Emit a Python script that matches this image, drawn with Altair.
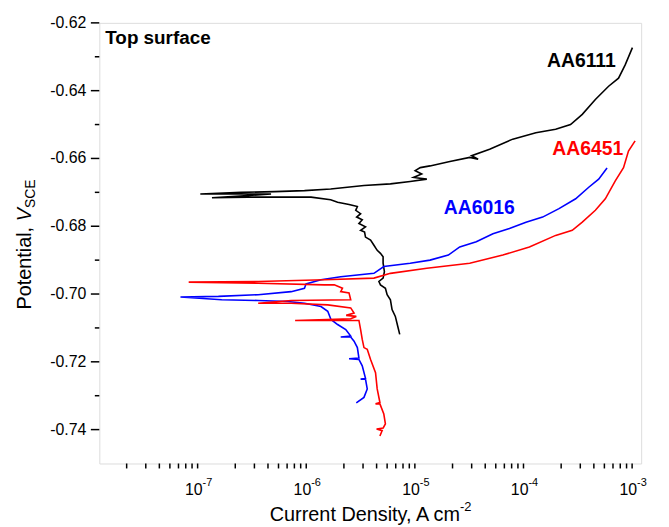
import altair as alt
import pandas as pd

FONT = "Liberation Sans"
W, H = 546, 444

# ---- data (current density A/cm2, potential V_SCE) ----
aa6111_i = [6.53e-6, 6.26e-6, 5.95e-6, 5.55e-6, 5.36e-6, 5.0e-6, 4.82e-6, 4.34e-6, 4.2e-6, 4.59e-6,
            4.72e-6, 4.59e-6, 4.59e-6, 4.34e-6, 4.05e-6, 3.78e-6, 3.52e-6, 3.16e-6, 3.1e-6, 2.85e-6,
            3.16e-6, 2.75e-6, 2.95e-6, 2.62e-6, 2.85e-6, 2.57e-6, 2.66e-6, 2.23e-6, 1.75e-6, 1.51e-6,
            9.96e-7, 5.69e-7, 2.63e-7, 1.22e-7, 4.27e-7, 9.53e-8, 2.27e-7, 4.61e-7, 8.67e-7, 1.51e-6,
            3.06e-6, 5.36e-6, 8.15e-6, 1.16e-5, 8.76e-6, 1.04e-5, 9.06e-6, 1.01e-5, 1.24e-5, 1.89e-5,
            2.88e-5, 3.44e-5, 3.0e-5, 4.39e-5, 7.17e-5, 1.17e-4, 1.78e-4, 2.44e-4, 3.13e-4, 4.13e-4,
            5.47e-4, 6.75e-4, 7.77e-4, 9.06e-4]
aa6111_v = [-0.7119, -0.7095, -0.7066, -0.7046, -0.7017, -0.7002, -0.6983, -0.6973, -0.6963, -0.6953,
            -0.6934, -0.6909, -0.6890, -0.6880, -0.6871, -0.6856, -0.6841, -0.6832, -0.6817, -0.6812,
            -0.6802, -0.6792, -0.6781, -0.6773, -0.6763, -0.6753, -0.6742, -0.6736, -0.6729, -0.6722,
            -0.6714, -0.6714, -0.6714, -0.6716, -0.6705, -0.6705, -0.6700, -0.6698, -0.6695, -0.6690,
            -0.6680, -0.6675, -0.6668, -0.6661, -0.6656, -0.6646, -0.6636, -0.6627, -0.6622, -0.6609,
            -0.6597, -0.6602, -0.6592, -0.6573, -0.6543, -0.6524, -0.6514, -0.6500, -0.6470, -0.6426,
            -0.6387, -0.6363, -0.6324, -0.6273]

aa6016_i = [2.6e-6, 3.06e-6, 3.28e-6, 3.16e-6, 2.85e-6, 3.16e-6, 2.95e-6, 2.75e-6, 2.23e-6, 2.75e-6,
            2.66e-6, 2.48e-6, 2.31e-6, 1.87e-6, 2.31e-6, 2.08e-6, 1.75e-6, 1.52e-6, 1.42e-6, 1.23e-6,
            8.67e-7, 6.1e-7, 3.25e-7, 1.5e-7, 6.26e-8, 1.4e-7, 3.25e-7, 6.54e-7, 8.67e-7, 8.96e-7,
            1.23e-6, 1.87e-6, 3.78e-6, 4.66e-6, 8.15e-6, 1.24e-5, 1.83e-5, 2.33e-5, 3.31e-5, 4.71e-5,
            6.68e-5, 9.49e-5, 1.35e-4, 1.91e-4, 2.72e-4, 3.59e-4, 4.43e-4, 5.29e-4]
aa6016_v = [-0.7321, -0.7305, -0.7280, -0.7251, -0.7251, -0.7249, -0.7212, -0.7193, -0.7191, -0.7189,
            -0.7158, -0.7139, -0.7127, -0.7127, -0.7124, -0.7105, -0.7090, -0.7075, -0.7051, -0.7037,
            -0.7027, -0.7022, -0.7019, -0.7017, -0.7009, -0.7007, -0.7002, -0.6993, -0.6983, -0.6970,
            -0.6958, -0.6949, -0.6939, -0.6919, -0.6909, -0.6900, -0.6885, -0.6861, -0.6846, -0.6822,
            -0.6807, -0.6788, -0.6773, -0.6748, -0.6719, -0.6685, -0.6661, -0.6628]

aa6451_i = [4.29e-6, 4.5e-6, 4.0e-6, 4.6e-6, 4.82e-6, 4.66e-6, 4.29e-6, 3.91e-6, 4.29e-6, 4.05e-6,
            3.91e-6, 3.52e-6, 3.28e-6, 3.06e-6, 2.95e-6, 2.85e-6, 2.75e-6, 7.11e-7, 2.31e-6, 2.6e-6,
            2.1e-6, 2.48e-6, 2.31e-6, 1.42e-6, 6.54e-7, 3.25e-7, 6.54e-7, 2.31e-6, 2.23e-6, 1.87e-6,
            1.94e-6, 1.63e-6, 1.32e-6, 3.25e-7, 7.45e-8, 3.25e-7, 1.32e-6, 3.78e-6, 5.36e-6, 1.16e-5,
            2.88e-5, 5.81e-5, 1.02e-4, 1.78e-4, 2.53e-4, 3.13e-4, 4.13e-4, 5.1e-4, 6.3e-4, 7.5e-4,
            8.33e-4, 9.59e-4]
aa6451_v = [-0.7419, -0.7403, -0.7398, -0.7395, -0.7383, -0.7354, -0.7324, -0.7324, -0.7320, -0.7280,
            -0.7232, -0.7193, -0.7163, -0.7158, -0.7134, -0.7105, -0.7078, -0.7078, -0.7073, -0.7066,
            -0.7063, -0.7056, -0.7041, -0.7032, -0.7027, -0.7027, -0.7019, -0.7017, -0.6997, -0.6993,
            -0.6983, -0.6973, -0.6973, -0.6968, -0.6965, -0.6963, -0.6958, -0.6953, -0.6939, -0.6924,
            -0.6909, -0.6885, -0.6861, -0.6827, -0.6812, -0.6788, -0.6753, -0.6719, -0.6666, -0.6627,
            -0.6578, -0.6548]

series_names = ["AA6111", "AA6016", "AA6451"]
series_colors = ["#000000", "#0000ff", "#ff0000"]

# curve labels (position in data coordinates)
label_text = ["AA6111", "AA6451", "AA6016"]
label_i = [1.48e-4, 1.66e-4, 1.66e-5]
label_v = [-0.6331, -0.6589, -0.6765]
label_color = ["#000000", "#ff0000", "#0000ff"]

# axes
x_domain = [1.12e-8, 1.09e-3]
y_domain = [-0.75, -0.62]
x_major = [1e-7, 1e-6, 1e-5, 1e-4, 1e-3]
x_major_exp = ["-7", "-6", "-5", "-4", "-3"]
x_minor = [k * 10.0 ** e for e in range(-8, -3) for k in range(2, 10)]
y_major = [-0.74, -0.72, -0.70, -0.68, -0.66, -0.64, -0.62]
y_major_labels = ["-0.74", "-0.72", "-0.70", "-0.68", "-0.66", "-0.64", "-0.62"]
y_minor = [-0.73, -0.71, -0.69, -0.67, -0.65, -0.63]

rows = []
for name, xs, ys in [("AA6111", aa6111_i, aa6111_v),
                     ("AA6016", aa6016_i, aa6016_v),
                     ("AA6451", aa6451_i, aa6451_v)]:
    for k, (a, b) in enumerate(zip(xs, ys)):
        rows.append({"series": name, "order": k, "i": a, "v": b})
curves = pd.DataFrame(rows)

xscale = alt.Scale(type="log", domain=x_domain, nice=False)
yscale = alt.Scale(domain=y_domain, nice=False, zero=False)

lines = alt.Chart(curves).mark_line(strokeWidth=1.6).encode(
    x=alt.X("i:Q", scale=xscale,
            axis=alt.Axis(values=x_major, labels=False, title=None, tickSize=8, tickWidth=1.5,
                          domainWidth=2, domainColor="black", tickColor="black", grid=False)),
    y=alt.Y("v:Q", scale=yscale,
            axis=alt.Axis(ticks=False, labels=False, title=None, domainWidth=2,
                          domainColor="black", grid=False)),
    color=alt.Color("series:N", scale=alt.Scale(domain=series_names, range=series_colors), legend=None),
    order=alt.Order("order:Q"),
)

xminor_rules = alt.Chart(pd.DataFrame({"t": x_minor})).mark_rule(color="black", strokeWidth=1.5).encode(
    x=alt.X("t:Q", scale=xscale, axis=None),
    y=alt.value(H), y2=alt.value(H + 5),
)
yminor_rules = alt.Chart(pd.DataFrame({"t": y_minor})).mark_rule(color="black", strokeWidth=1.5).encode(
    y=alt.Y("t:Q", scale=yscale, axis=None),
    x=alt.value(0), x2=alt.value(-4.5),
)
ymaj_df = pd.DataFrame({"t": y_major, "lab": y_major_labels})
ymajor_rules = alt.Chart(ymaj_df).mark_rule(color="black", strokeWidth=1.5).encode(
    y=alt.Y("t:Q", scale=yscale, axis=None),
    x=alt.value(0), x2=alt.value(-8.5),
)
ymajor_labels = alt.Chart(ymaj_df).mark_text(font=FONT, fontSize=16, align="right", baseline="middle",
                                             color="black").encode(
    y=alt.Y("t:Q", scale=yscale, axis=None), x=alt.value(-13), text="lab:N")

tick_df = pd.DataFrame({"t": x_major, "e": x_major_exp})
ten_labels = alt.Chart(tick_df).mark_text(text="10", font=FONT, fontSize=16, align="right",
                                          baseline="alphabetic", color="black").encode(
    x=alt.X("t:Q", scale=xscale, axis=None), y=alt.value(H + 32))
exp_labels = alt.Chart(tick_df).mark_text(font=FONT, fontSize=11, align="left",
                                          baseline="alphabetic", color="black").encode(
    x=alt.X("t:Q", scale=xscale, axis=None), y=alt.value(H + 23), text="e:N")

lab_df = pd.DataFrame({"t": label_text, "i": label_i, "v": label_v, "c": label_color})
curve_labels = alt.Chart(lab_df).mark_text(font=FONT, fontSize=19.5, fontWeight="bold", align="left",
                                           baseline="alphabetic").encode(
    x=alt.X("i:Q", scale=xscale, axis=None), y=alt.Y("v:Q", scale=yscale, axis=None),
    text="t:N", color=alt.Color("c:N", scale=None))

one = pd.DataFrame({"a": [0]})


def txt(text, x, y, size, **kw):
    return alt.Chart(one).mark_text(text=text, font=FONT, fontSize=size, color="black", **kw).encode(
        x=alt.value(x), y=alt.value(y))


top_label = txt("Top surface", 6, 21, 19, fontWeight="bold", align="left", baseline="alphabetic")

x_title = txt("Current Density, A cm", 363.5, H + 58, 20, align="right", baseline="alphabetic")
x_title_sup = txt("-2", 363.5, H + 48, 13, align="left", baseline="alphabetic")

y_title_a = txt("Potential,", -69, 205.6, 20, angle=270, align="right", baseline="alphabetic")
y_title_b = txt("V", -69, 200, 20, angle=270, align="left", baseline="alphabetic", fontStyle="italic")
y_title_c = txt("SCE", -65, 186.5, 14, angle=270, align="left", baseline="alphabetic")

chart = alt.layer(
    lines, xminor_rules, yminor_rules, ymajor_rules, ymajor_labels, ten_labels, exp_labels,
    curve_labels, top_label, x_title, x_title_sup, y_title_a, y_title_b, y_title_c,
).properties(
    width=W, height=H,
    padding={"left": 92, "top": 13, "right": 20, "bottom": 62},
    autosize=alt.AutoSizeParams(type="none"),
).configure_view(strokeWidth=0).configure(background="white")

chart.save("out.html", embed_options={"renderer": "svg", "actions": False})
